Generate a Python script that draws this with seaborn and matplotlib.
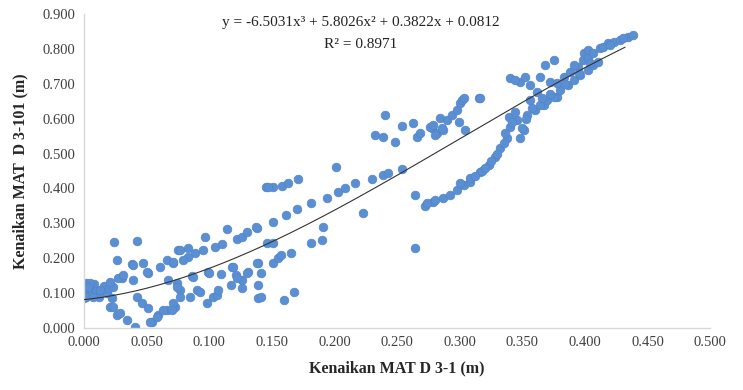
import numpy as np
import pandas as pd
import matplotlib.pyplot as plt
import seaborn as sns

# kenaikan MAT (m)
mat_d3_1 = [
    0.000, 0.000, 0.002, 0.004, 0.006, 0.008, 0.010, 0.012, 0.014, 0.016, 0.018, 0.020,
    0.005, 0.002, 0.013, 0.023, 0.030, 0.039, 0.003, 0.007, 0.022, 0.021, 0.027, 0.031,
    0.024, 0.042, 0.026, 0.038, 0.047, 0.051, 0.061, 0.066, 0.071, 0.075, 0.067, 0.039, 0.050,
    0.021, 0.026, 0.034, 0.041, 0.042, 0.046, 0.051, 0.054, 0.059, 0.066, 0.073,
    0.023, 0.029, 0.053, 0.058, 0.063, 0.071, 0.070, 0.074, 0.077,
    0.077, 0.083, 0.089, 0.095, 0.097, 0.105, 0.110, 0.114, 0.122, 0.126, 0.130, 0.138, 0.083,
    0.071, 0.079, 0.086, 0.087, 0.099, 0.100, 0.109, 0.118, 0.121, 0.126, 0.131, 0.139, 0.141,
    0.139, 0.139, 0.117, 0.126, 0.119, 0.122, 0.130, 0.141, 0.151, 0.155,
    0.074, 0.077, 0.085, 0.090, 0.093, 0.098, 0.103, 0.106, 0.107,
    0.146, 0.151, 0.137, 0.151, 0.161, 0.170, 0.181, 0.194, 0.203, 0.208, 0.216, 0.230, 0.239,
    0.243, 0.254,
    0.145, 0.151, 0.158, 0.163, 0.147, 0.171, 0.201,
    0.138, 0.157, 0.165, 0.181, 0.190, 0.191, 0.223, 0.160, 0.168,
    0.240, 0.254, 0.263, 0.232, 0.239, 0.248, 0.266, 0.278, 0.282, 0.287,
    0.268, 0.276, 0.279, 0.280, 0.284, 0.286, 0.290, 0.294, 0.298, 0.299, 0.300, 0.302,
    0.303, 0.304, 0.315, 0.316,
    0.264, 0.264, 0.272, 0.279, 0.287, 0.292, 0.298, 0.303, 0.308, 0.274, 0.280,
    0.300, 0.308, 0.316, 0.323, 0.328, 0.332, 0.338, 0.340, 0.339, 0.348, 0.351, 0.346,
    0.350, 0.354, 0.360, 0.367, 0.356, 0.362,
    0.340, 0.348, 0.356, 0.364, 0.368, 0.375, 0.372, 0.378,
    0.364, 0.370, 0.375, 0.380, 0.386, 0.391, 0.396, 0.402, 0.406, 0.378, 0.383, 0.388,
    0.394, 0.399, 0.402, 0.391, 0.398, 0.402, 0.406, 0.410, 0.412, 0.418, 0.423, 0.428,
    0.434, 0.438,
    0.312, 0.318, 0.320, 0.325, 0.330, 0.335, 0.336, 0.342, 0.344, 0.353, 0.358, 0.366,
    0.372, 0.384, 0.395, 0.404, 0.414, 0.420, 0.430, 0.344, 0.352,
]
mat_d3_101 = [
    0.085, 0.100, 0.130, 0.115, 0.095, 0.125, 0.105, 0.090, 0.110, 0.120, 0.100, 0.115,
    0.129, 0.089, 0.109, 0.117, 0.143, 0.138, 0.117, 0.089, 0.086, 0.132, 0.143, 0.152,
    0.246, 0.250, 0.195, 0.183, 0.186, 0.157, 0.175, 0.195, 0.186, 0.223, 0.138, 0.180, 0.160,
    0.060, 0.037, 0.023, 0.003, 0.089, 0.072, 0.057, 0.017, 0.037, 0.052, 0.060,
    0.060, 0.043, 0.017, 0.032, 0.052, 0.072, 0.052, 0.129, 0.109,
    0.223, 0.229, 0.215, 0.223, 0.261, 0.232, 0.241, 0.284, 0.255, 0.261, 0.275, 0.287, 0.203,
    0.189, 0.195, 0.149, 0.146, 0.160, 0.158, 0.155, 0.175, 0.152, 0.138, 0.160, 0.186, 0.158,
    0.123, 0.086, 0.123, 0.115, 0.175, 0.143, 0.158, 0.089, 0.186, 0.200,
    0.117, 0.089, 0.089, 0.109, 0.103, 0.072, 0.089, 0.095, 0.109,
    0.244, 0.244, 0.289, 0.304, 0.324, 0.341, 0.358, 0.372, 0.390, 0.401, 0.415, 0.427, 0.438,
    0.444, 0.456,
    0.404, 0.404, 0.407, 0.415, 0.404, 0.427, 0.461,
    0.186, 0.209, 0.215, 0.244, 0.252, 0.289, 0.330, 0.080, 0.103,
    0.610, 0.579, 0.587, 0.553, 0.547, 0.533, 0.547, 0.573, 0.559, 0.567,
    0.559, 0.576, 0.582, 0.553, 0.602, 0.573, 0.596, 0.610, 0.625, 0.590, 0.645, 0.653,
    0.659, 0.567, 0.659, 0.659,
    0.381, 0.229, 0.350, 0.361, 0.372, 0.381, 0.395, 0.410, 0.418, 0.358, 0.367,
    0.415, 0.430, 0.447, 0.467, 0.490, 0.516, 0.544, 0.576, 0.605, 0.544, 0.567, 0.596,
    0.573, 0.610, 0.625, 0.639, 0.653, 0.676,
    0.716, 0.705, 0.696, 0.719, 0.754, 0.768, 0.705, 0.662,
    0.639, 0.653, 0.662, 0.682, 0.696, 0.711, 0.725, 0.739, 0.754, 0.702, 0.719, 0.733,
    0.748, 0.788, 0.797, 0.754, 0.768, 0.774, 0.788, 0.762, 0.802, 0.817, 0.819, 0.825,
    0.834, 0.840,
    0.435, 0.450, 0.460, 0.480, 0.500, 0.530, 0.560, 0.590, 0.620, 0.600, 0.630, 0.660,
    0.670, 0.700, 0.730, 0.760, 0.805, 0.810, 0.830, 0.710, 0.720,
]

# koefisien trendline polinomial orde 3 (dari grafik)
coef = [-6.5031, 5.8026, 0.3822, 0.0812]
r2 = 0.8971

df = pd.DataFrame({"x": mat_d3_1, "y": mat_d3_101})

sns.set_style("white")
plt.rcParams["font.family"] = ["Liberation Serif", "DejaVu Serif"]

fig = plt.figure(figsize=(7.43, 3.90), dpi=100)
ax = fig.add_axes([0.113, 0.159, 0.843, 0.805])

sns.scatterplot(
    data=df, x="x", y="y", ax=ax,
    color="#5b8fd4", s=40, edgecolor="#4f82c4", linewidth=0.4, zorder=2
)

xt = np.linspace(0, 0.432, 200)
ax.plot(xt, np.polyval(coef, xt), color="#333333", lw=0.8, zorder=3)

ax.set_xlim(0, 0.5)
ax.set_ylim(0, 0.9)
ax.set_xticks(np.arange(0, 0.501, 0.05))
ax.set_yticks(np.arange(0, 0.901, 0.1))
ax.xaxis.set_major_formatter(plt.FormatStrFormatter("%.3f"))
ax.yaxis.set_major_formatter(plt.FormatStrFormatter("%.3f"))
ax.tick_params(length=0, labelsize=10.5, colors="#404040", pad=6)

for side in ["top", "right"]:
    ax.spines[side].set_visible(False)
for side in ["left", "bottom"]:
    ax.spines[side].set_color("#d9d9d9")
    ax.spines[side].set_linewidth(1)

ax.set_xlabel("Kenaikan MAT D 3-1 (m)", fontsize=11.5, fontweight="bold", labelpad=8)
ax.set_ylabel("Kenaikan MAT  D 3-101 (m)", fontsize=11.5, fontweight="bold", labelpad=10)

ax.text(0.221, 0.877, "y = -6.5031x³ + 5.8026x² + 0.3822x + 0.0812",
        ha="center", va="center", fontsize=11, color="#222222")
ax.text(0.221, 0.814, f"R² = {r2}", ha="center", va="center",
        fontsize=11, color="#222222")

plt.savefig("out.png", dpi=100)
plt.close()
